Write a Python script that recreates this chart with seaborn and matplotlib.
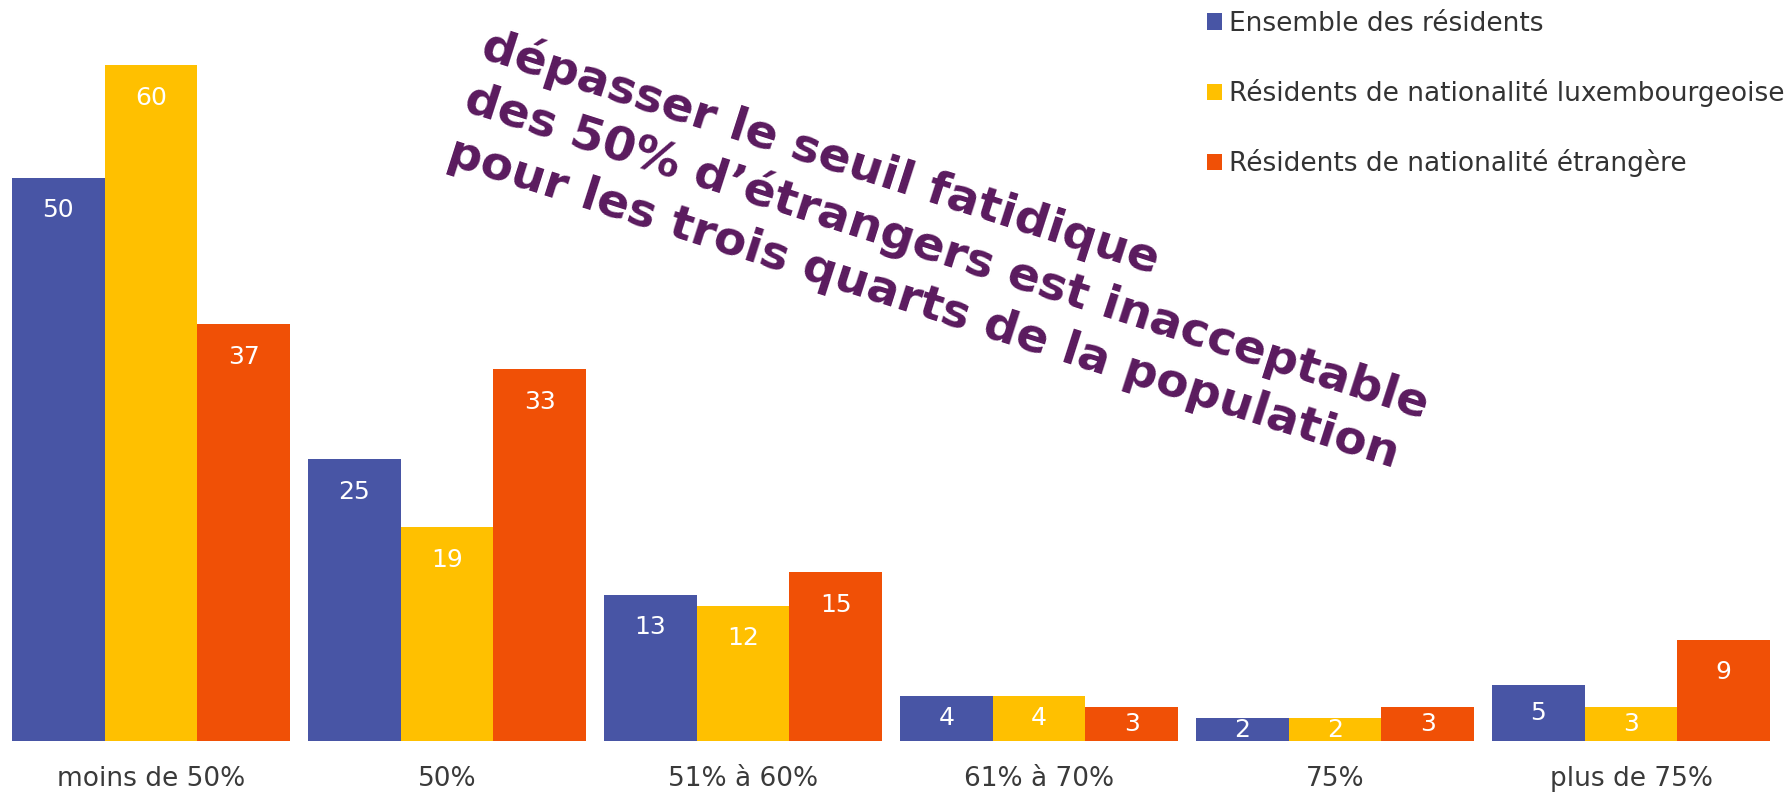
import matplotlib
matplotlib.use("Agg")
import matplotlib.pyplot as plt
import seaborn as sns
import pandas as pd
import numpy as np

categories = ["moins de 50%", "50%", "51% à 60%", "61% à 70%", "75%", "plus de 75%"]
series = ["Ensemble des résidents",
          "Résidents de nationalité luxembourgeoise",
          "Résidents de nationalité étrangère"]
ensemble = [50, 25, 13, 4, 2, 5]
luxembourgeois = [60, 19, 12, 4, 2, 3]
etrangers = [37, 33, 15, 3, 3, 9]
colors = ["#4855A5", "#FFC000", "#F05006"]
annotation_lines = ["dépasser le seuil fatidique",
                    "des 50% d’étrangers est inacceptable",
                    "pour les trois quarts de la population"]

values = [ensemble, luxembourgeois, etrangers]
rows = []
for s, vals in zip(series, values):
    for c, v in zip(categories, vals):
        rows.append({"cat": c, "series": s, "val": v})
df = pd.DataFrame(rows)

sns.set_theme(style="white")
plt.rcParams["font.family"] = ["DejaVu Sans"]

W, H = 1788, 792
fig = plt.figure(figsize=(W / 100, H / 100), dpi=100)
ax = fig.add_axes([3 / W, 51 / H, 1776 / W, 1 - 51 / H - 8.5 / H])

sns.barplot(data=df, x="cat", y="val", hue="series", order=categories,
            hue_order=series, palette=colors, saturation=1, width=0.939,
            gap=0, ax=ax, legend=True, edgecolor="none", linewidth=0)

ax.set_xlim(-0.5, 5.5)
ax.set_ylim(0, 65)
for sp in ax.spines.values():
    sp.set_visible(False)
ax.set_yticks([])
ax.set_xlabel("")
ax.set_ylabel("")
ax.tick_params(axis="x", length=0, pad=18, labelsize=19, labelcolor="#3a3a3a")

for cont, vals in zip(ax.containers, values):
    for bar, v in zip(cont, vals):
        x = bar.get_x() + bar.get_width() / 2
        y = max(v - 2.9, v / 2)
        ax.text(x, y, str(v), ha="center", va="center", color="white",
                fontsize=18)

handles, labels = ax.get_legend_handles_labels()
ax.legend(handles, labels, loc="upper left",
          bbox_to_anchor=(1207 / W, 1 - 11 / H),
          bbox_transform=fig.transFigure, frameon=False, fontsize=19,
          handlelength=0.58, handleheight=0.58, handletextpad=0.25,
          labelspacing=1.6, borderaxespad=0, borderpad=0,
          labelcolor="#333333")

angle = 17.8
spacing = 56
x0, y0 = 479, 57
for i, line in enumerate(annotation_lines):
    xi = x0 - i * spacing * np.sin(np.radians(angle))
    yi = y0 + i * spacing * np.cos(np.radians(angle))
    fig.text(xi / W, 1 - yi / H, line, rotation=-angle,
             rotation_mode="anchor", ha="left", va="baseline",
             fontsize=34, fontweight="bold", color="#5A1A5E")

fig.savefig("out.png", dpi=100, facecolor="white")
